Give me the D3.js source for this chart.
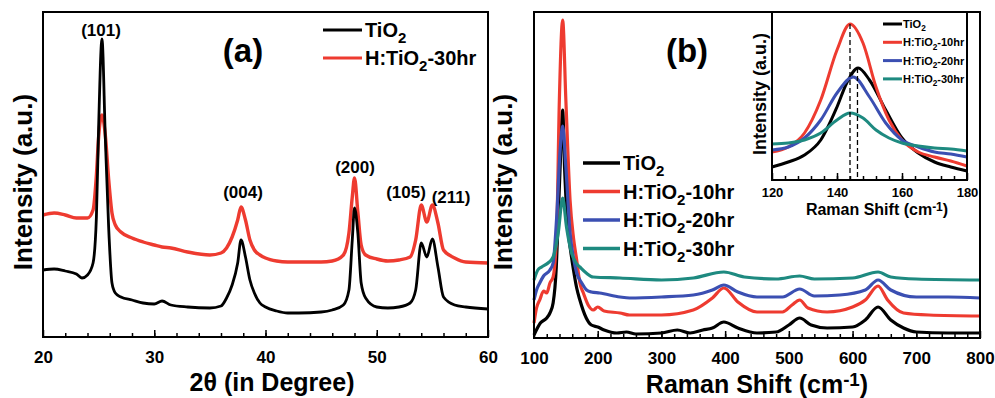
<!DOCTYPE html>
<html>
<head>
<meta charset="utf-8">
<script src="https://cdn.jsdelivr.net/npm/d3@7"></script>
<style>
  body { margin: 0; background: #fff; }
</style>
</head>
<body>
<div id="chart"></div>
<script>
// ---- data (arbitrary intensity units) ----
var xrdTheta = [20, 21, 22, 23, 23.5, 24, 24.5, 24.8, 25.0, 25.3, 25.6, 25.9, 26.2, 26.5, 27, 28, 29, 30, 30.7, 31.5, 33, 35, 36, 36.5, 37, 37.5, 37.8, 38.2, 38.6, 39, 39.5, 40, 41, 42, 43, 45, 46, 47, 47.5, 47.8, 48.0, 48.3, 48.6, 49, 50, 51, 52, 53, 53.5, 54.0, 54.5, 55.0, 55.5, 56, 57, 58, 60];
var xrdTiO2 = [67, 68, 66, 63, 59, 62, 74, 120, 210, 298, 200, 110, 54, 44, 40, 37, 34, 33, 36, 32, 30, 29, 31, 39, 52, 74, 97, 80, 57, 44, 34, 30, 26, 24, 24, 25, 27, 32, 47, 97, 129, 104, 54, 39, 30, 29, 30, 34, 47, 94, 80, 98, 70, 40, 32, 30, 28];
var xrdH30 = [122, 124, 122, 119, 119, 119, 127, 162, 200, 222, 202, 158, 124, 112, 105, 99, 95, 92, 90, 89, 85, 82, 84, 89, 100, 117, 130, 117, 97, 87, 82, 79, 76, 75, 75, 75, 76, 82, 104, 140, 159, 125, 92, 82, 78, 76, 77, 80, 97, 132, 115, 132, 114, 87, 79, 75, 74];
var xrdPeaks = ["(101)", "(004)", "(200)", "(105)", "(211)"];

var ramanNames = ["TiO2", "H:TiO2-10hr", "H:TiO2-20hr", "H:TiO2-30hr"];

var ramanTiO2X = [100, 110, 120, 125, 130, 135, 138, 141, 145, 148, 151, 154, 158, 162, 167, 172, 182, 190, 200, 210, 230, 245, 260, 300, 325, 345, 365, 380, 398, 420, 450, 480, 500, 517, 535, 560, 600, 620, 640, 660, 680, 700, 750, 800];
var ramanTiO2 = [3, 15, 20, 25, 35, 71, 120, 171, 228, 170, 130, 105, 85, 68, 50, 38, 20, 13, 11, 8, 5, 6, 4, 5, 8, 5, 8, 10, 16, 10, 5, 6, 13, 20, 13, 10, 11, 18, 31, 18, 10, 6, 5, 5];

var ramanH10X = [100, 104, 109, 115, 120, 125, 130, 135.6, 139.8, 145, 150, 156.6, 162, 167, 172, 177.5, 185, 193, 200, 210, 235, 250, 300, 350, 380, 398, 420, 450, 490, 505, 517, 530, 560, 600, 620, 640, 655, 680, 720, 800];
var ramanH10 = [15, 30, 38, 47, 45, 55, 61, 105, 238, 318, 238, 138, 100, 78, 55, 45, 33, 28, 31, 27, 25, 23, 23, 28, 40, 50, 36, 26, 26, 33, 38, 30, 26, 31, 38, 52, 38, 25, 23, 22];

var ramanH20X = [100, 104, 109, 115, 125, 130, 135.6, 141, 145, 150, 156.6, 162, 167, 175, 182.5, 190, 203, 235, 250, 300, 350, 380, 398, 420, 450, 490, 517, 540, 580, 620, 640, 660, 700, 750, 800];
var ramanH20 = [38, 48, 55, 62, 68, 75, 121, 188, 212, 171, 105, 80, 65, 55, 48, 46, 45, 41, 40, 41, 43, 48, 53, 46, 41, 41, 49, 42, 43, 48, 58, 48, 41, 41, 40];

var ramanH30X = [100, 106, 112, 122, 130, 138, 145, 151, 159, 166, 172, 182, 193, 235, 300, 350, 398, 430, 480, 517, 540, 600, 640, 660, 700, 800];
var ramanH30 = [58, 68, 71, 75, 81, 105, 140, 111, 85, 75, 71, 65, 61, 60, 58, 60, 66, 61, 59, 62, 59, 60, 66, 61, 59, 58];

// inset, 120-180 cm-1
var insetX = [120, 125, 130, 135, 140, 143, 146.5, 150, 155, 160, 165, 170, 175, 180];
var insetTiO2 = [13, 18, 25, 40, 73, 97, 112, 100, 70, 42, 27, 18, 13, 9];
var insetH10X = [120, 125, 130, 135, 140, 144, 148, 152, 156, 160, 165, 170, 175, 180];
var insetH10 = [28, 33, 47, 80, 130, 156, 137, 93, 60, 40, 28, 23, 19, 14];
var insetH20X = [120, 125, 130, 135, 140, 145, 150, 155, 160, 165, 170, 175, 180];
var insetH20 = [30, 33, 42, 60, 87, 103, 83, 57, 40, 33, 28, 26, 23];
var insetH30X = [120, 125, 130, 135, 140, 144, 148, 152, 156, 160, 165, 170, 175, 180];
var insetH30 = [36, 37, 40, 47, 60, 67, 62, 50, 42, 37, 34, 32, 31, 29];
var insetMarks = [144, 146.3];

var colors = ["#000000", "#ee3b30", "#3b4fb2", "#1e8a80"];
var font = "'Liberation Sans', Arial, sans-serif";

var svg = d3.select("#chart")
  .append("svg")
  .attr("width", 995)
  .attr("height", 398)
  .style("font-family", font)
  .style("font-weight", "bold");

// text with a subscript or superscript part
function richText(g, x, y, pre, small, post, size, anchor, up) {
  var t = g.append("text")
    .attr("x", x)
    .attr("y", y)
    .attr("font-size", size)
    .attr("text-anchor", anchor || "start");
  t.append("tspan").text(pre);
  if (small) {
    var shift = up ? -size * 0.28 : size * 0.3;
    t.append("tspan").attr("dy", shift).attr("font-size", size * 0.75).text(small);
    t.append("tspan").attr("dy", -shift).text(post);
  }
  return t;
}

function splitName(n) {
  var i = n.indexOf("2");
  return [n.slice(0, i), "2", n.slice(i + 1)];
}

function bottomTicks(g, x, y0, major, minor, pad, size) {
  g.append("g")
    .attr("transform", "translate(0," + y0 + ")")
    .call(d3.axisBottom(x).tickValues(minor).tickSizeInner(-4).tickSizeOuter(0).tickFormat(""))
    .call(function(a) { a.select(".domain").remove(); })
    .selectAll("line").attr("stroke-width", 1.5);
  g.append("g")
    .attr("transform", "translate(0," + y0 + ")")
    .call(d3.axisBottom(x).tickValues(major).tickSizeInner(-7).tickSizeOuter(0).tickPadding(pad))
    .call(function(a) { a.select(".domain").remove(); })
    .call(function(a) {
      a.selectAll("line").attr("stroke-width", 1.5);
      a.selectAll("text").attr("font-size", size).attr("font-family", font).attr("font-weight", "bold").attr("fill", "#000");
    });
}

// ================= panel (a) =================
var xa = d3.scaleLinear().domain([20, 60]).range([43, 488]);
var ya = d3.scaleLinear().domain([0, 325]).range([337, 12]);
var ga = svg.append("g");

var lineA = d3.line()
  .x(function(d) { return xa(d[0]); })
  .y(function(d) { return ya(d[1]); })
  .curve(d3.curveMonotoneX);

ga.append("path")
  .datum(d3.zip(xrdTheta, xrdH30))
  .attr("fill", "none").attr("stroke", colors[1]).attr("stroke-width", 3.4)
  .attr("d", lineA);
ga.append("path")
  .datum(d3.zip(xrdTheta, xrdTiO2))
  .attr("fill", "none").attr("stroke", colors[0]).attr("stroke-width", 2.8)
  .attr("d", lineA);

ga.append("rect")
  .attr("x", 43).attr("y", 12).attr("width", 445).attr("height", 325)
  .attr("fill", "none").attr("stroke", "#000").attr("stroke-width", 2);

bottomTicks(ga, xa, 337, d3.range(20, 61, 10), d3.range(22, 60, 2), 14, 17);

var peakLabelY = [36, 198, 173, 198, 203];
var peakLabelX = [101, 243, 355, 406, 451];
xrdPeaks.forEach(function(p, i) {
  ga.append("text")
    .attr("x", peakLabelX[i]).attr("y", peakLabelY[i])
    .attr("text-anchor", "middle").attr("font-size", 17)
    .text(p);
});

ga.append("text").attr("x", 243).attr("y", 62).attr("text-anchor", "middle")
  .attr("font-size", 33).text("(a)");

[0, 1].forEach(function(i) {
  var ly = 30 + i * 28;
  ga.append("line").attr("x1", 323).attr("x2", 362).attr("y1", ly).attr("y2", ly)
    .attr("stroke", colors[i]).attr("stroke-width", 3);
  var nm = i === 0 ? "TiO2" : "H:TiO2-30hr";
  var s = splitName(nm);
  richText(ga, 365, ly + 7, s[0], s[1], s[2], 20);
});

ga.append("text")
  .attr("transform", "translate(32,182) rotate(-90)")
  .attr("text-anchor", "middle").attr("font-size", 26)
  .text("Intensity (a.u.)");
ga.append("text")
  .attr("x", 272).attr("y", 391).attr("text-anchor", "middle")
  .attr("font-size", 25).text("2θ (in Degree)");

// ================= panel (b) =================
var xb = d3.scaleLinear().domain([100, 800]).range([534, 980]);
var yb = d3.scaleLinear().domain([0, 326]).range([338, 12]);
var gb = svg.append("g");

var lineB = d3.line()
  .x(function(d) { return xb(d[0]); })
  .y(function(d) { return yb(d[1]); })
  .curve(d3.curveMonotoneX);

var ramanSeries = [
  d3.zip(ramanTiO2X, ramanTiO2),
  d3.zip(ramanH10X, ramanH10),
  d3.zip(ramanH20X, ramanH20),
  d3.zip(ramanH30X, ramanH30)
];
[0, 1, 2, 3].forEach(function(i) {
  gb.append("path")
    .datum(ramanSeries[i])
    .attr("fill", "none").attr("stroke", colors[i]).attr("stroke-width", 3.2)
    .attr("d", lineB);
});

gb.append("rect")
  .attr("x", 534).attr("y", 12).attr("width", 446).attr("height", 326)
  .attr("fill", "none").attr("stroke", "#000").attr("stroke-width", 2);

bottomTicks(gb, xb, 338, d3.range(100, 801, 100), d3.range(120, 800, 20), 14, 17);

gb.append("text").attr("x", 687).attr("y", 62).attr("text-anchor", "middle")
  .attr("font-size", 33).text("(b)");

ramanNames.forEach(function(nm, i) {
  var ly = 163 + i * 28.5;
  gb.append("line").attr("x1", 583).attr("x2", 620).attr("y1", ly).attr("y2", ly)
    .attr("stroke", colors[i]).attr("stroke-width", 3.5);
  var s = splitName(nm);
  richText(gb, 623, ly + 7, s[0], s[1], s[2], 20);
});

gb.append("text")
  .attr("transform", "translate(512,182) rotate(-90)")
  .attr("text-anchor", "middle").attr("font-size", 26)
  .text("Intensity (a.u.)");
richText(gb, 757, 393, "Raman Shift (cm", "-1", ")", 25, "middle", true);

// ---- inset ----
var xi = d3.scaleLinear().domain([120, 180]).range([772, 967]);
var yi = d3.scaleLinear().domain([0, 168]).range([180, 12]);
var gi = svg.append("g");

gi.append("rect")
  .attr("x", 772).attr("y", 12).attr("width", 195).attr("height", 168)
  .attr("fill", "#fff");

var lineI = d3.line()
  .x(function(d) { return xi(d[0]); })
  .y(function(d) { return yi(d[1]); })
  .curve(d3.curveMonotoneX);

var insetSeries = [
  d3.zip(insetX, insetTiO2),
  d3.zip(insetH10X, insetH10),
  d3.zip(insetH20X, insetH20),
  d3.zip(insetH30X, insetH30)
];
[0, 1, 2, 3].forEach(function(i) {
  gi.append("path")
    .datum(insetSeries[i])
    .attr("fill", "none").attr("stroke", colors[i]).attr("stroke-width", 3)
    .attr("d", lineI);
});

// dashed guides at the peak centres
gi.selectAll(".mark")
  .data(insetMarks)
  .enter()
  .append("line")
  .attr("x1", function(d) { return xi(d); })
  .attr("x2", function(d) { return xi(d); })
  .attr("y1", function(d, i) { return i === 0 ? yi(156) : yi(112); })
  .attr("y2", yi(0))
  .attr("stroke", "#000").attr("stroke-width", 1.3)
  .attr("stroke-dasharray", "5,3");

gi.append("rect")
  .attr("x", 772).attr("y", 12).attr("width", 195).attr("height", 168)
  .attr("fill", "none").attr("stroke", "#000").attr("stroke-width", 2);

bottomTicks(gi, xi, 180, d3.range(120, 181, 20), d3.range(124, 180, 4), 8, 13);

ramanNames.forEach(function(nm, i) {
  var ly = 24 + i * 18.3;
  gi.append("line").attr("x1", 883).attr("x2", 902).attr("y1", ly).attr("y2", ly)
    .attr("stroke", colors[i]).attr("stroke-width", 3);
  var s = splitName(nm);
  richText(gi, 903, ly + 4, s[0], s[1], s[2], 11);
});

gi.append("text")
  .attr("transform", "translate(766,94) rotate(-90)")
  .attr("text-anchor", "middle").attr("font-size", 18)
  .text("Intensity (a.u.)");
richText(gi, 877, 215, "Raman Shift (cm", "-1", ")", 16, "middle", true);
</script>
</body>
</html>
